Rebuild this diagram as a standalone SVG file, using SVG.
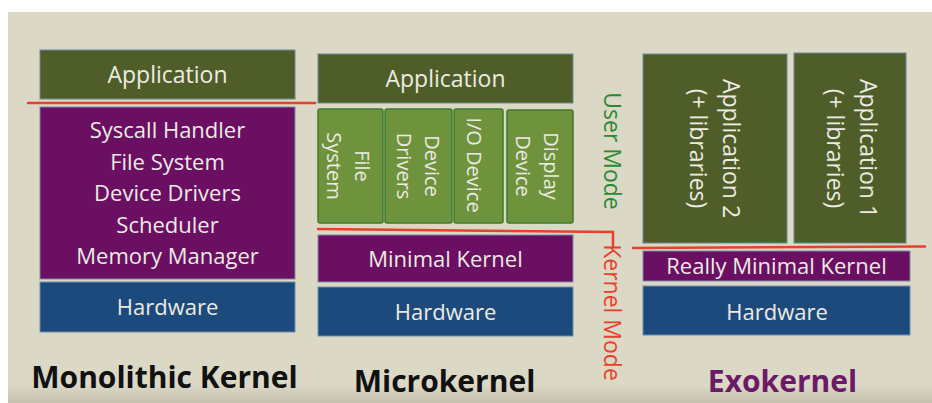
<svg xmlns="http://www.w3.org/2000/svg" width="932" height="403" viewBox="0 0 932 403">
<defs>
<linearGradient id="bottomShade" x1="0" y1="0" x2="0" y2="1">
<stop offset="0" stop-color="#dbd8c5"/>
<stop offset="1" stop-color="#c4c0ae"/>
</linearGradient>
</defs>
<style>
.bg{fill:#dbd8c5}
.app{fill:#4f5e28;stroke:#6f8799;stroke-width:1}
.kern{fill:#6b0f62;stroke:#7c8aa8;stroke-width:1}
.hw{fill:#1d4a7c;stroke:#6f8fa8;stroke-width:1}
.svc{fill:#6f933d;stroke:#3f7c2c;stroke-width:1.5}
.t{font-family:"Open Sans","Liberation Sans",sans-serif;fill:#ecebe3;text-anchor:middle}
.t22{font-size:22px}
.t23{font-size:23px}
.t20{font-size:20px}
.title{font-family:"Open Sans","Liberation Sans",sans-serif;font-weight:bold;font-size:30px;text-anchor:middle}
.mode{font-family:"Open Sans","Liberation Sans",sans-serif;font-size:23px;text-anchor:middle}
.sep{stroke:#e8402a;stroke-width:2.5;fill:none;stroke-linecap:round}
</style>
<rect x="0" y="0" width="932" height="403" fill="#ffffff"/>
<rect class="bg" x="8" y="12" width="924" height="385"/>
<rect x="8" y="385" width="924" height="18" fill="url(#bottomShade)"/>

<g id="monolithic">
<g id="mono-app"><rect class="app" x="40" y="50" width="255" height="49"/><text class="t t23" x="167.5" y="83">Application</text></g>
<g id="mono-kernel"><rect class="kern" x="40" y="107" width="255" height="172"/>
<text class="t t22"><tspan x="167.5" y="138">Syscall Handler</tspan><tspan x="167.5" y="169.5">File System</tspan><tspan x="167.5" y="201">Device Drivers</tspan><tspan x="167.5" y="232.5">Scheduler</tspan><tspan x="167.5" y="264">Memory Manager</tspan></text></g>
<g id="mono-hw"><rect class="hw" x="40" y="282" width="255" height="50"/><text class="t t22" x="167.5" y="315">Hardware</text></g>
<g id="mono-title"><text class="title" x="164.5" y="388" fill="#111111">Monolithic Kernel</text></g>
</g>

<g id="microkernel">
<g id="micro-app"><rect class="app" x="318" y="54" width="255" height="49"/><text class="t t23" x="445.5" y="87">Application</text></g>
<g id="micro-fs"><rect class="svc" x="318" y="109" width="65" height="114" rx="2"/><text class="t t20" transform="translate(350,166) rotate(90)"><tspan x="0" y="-5">File</tspan><tspan x="0" y="23">System</tspan></text></g>
<g id="micro-dd"><rect class="svc" x="385" y="109" width="67" height="114" rx="2"/><text class="t t20" transform="translate(418,166) rotate(90)"><tspan x="0" y="-7">Device</tspan><tspan x="0" y="21">Drivers</tspan></text></g>
<g id="micro-io"><rect class="svc" x="454" y="109" width="49" height="114" rx="2"/><text class="t t20" transform="translate(478,165) rotate(90)"><tspan x="0" y="11">I/O Device</tspan></text></g>
<g id="micro-disp"><rect class="svc" x="507" y="110" width="66" height="113" rx="2"/><text class="t t20" transform="translate(540,166) rotate(90)"><tspan x="0" y="-4">Display</tspan><tspan x="0" y="24">Device</tspan></text></g>
<g id="micro-kernel"><rect class="kern" x="318" y="235" width="255" height="47"/><text class="t t22" x="445.5" y="267">Minimal Kernel</text></g>
<g id="micro-hw"><rect class="hw" x="318" y="287" width="255" height="49"/><text class="t t22" x="445.5" y="319.5">Hardware</text></g>
<g id="micro-title"><text class="title" x="444.5" y="392" fill="#111111">Microkernel</text></g>
</g>

<g id="modes">
<g id="user-mode"><text class="mode" fill="#2a8a30" transform="translate(604,151) rotate(90)" x="0" y="0">User Mode</text></g>
<g id="kernel-mode"><text class="mode" fill="#e8402a" transform="translate(604,312.5) rotate(90)" x="0" y="0">Kernel Mode</text></g>
</g>

<g id="exokernel">
<g id="exo-app2"><rect class="app" x="643" y="54" width="144" height="189"/><text class="t t23" transform="translate(715,148.5) rotate(90)"><tspan x="0" y="-8">Application 2</tspan><tspan x="0" y="25">(+ libraries)</tspan></text></g>
<g id="exo-app1"><rect class="app" x="794" y="53" width="112" height="190"/><text class="t t23" transform="translate(850,148.5) rotate(90)"><tspan x="0" y="-10">Application 1</tspan><tspan x="0" y="23">(+ libraries)</tspan></text></g>
<g id="exo-kernel"><rect class="kern" x="643" y="251" width="267" height="30"/><text class="t t22" x="776.5" y="274">Really Minimal Kernel</text></g>
<g id="exo-hw"><rect class="hw" x="643" y="286" width="267" height="49"/><text class="t t22" x="777" y="319.5">Hardware</text></g>
<g id="exo-title"><text class="title" x="782.5" y="392" fill="#6b1a67">Exokernel</text></g>
</g>

<g id="connectors">
<line class="sep" x1="28" y1="103" x2="315" y2="103"/>
<polyline class="sep" points="318,229 613,232 613,246"/>
<line class="sep" x1="633" y1="248" x2="925" y2="246.5"/>
</g>
</svg>
